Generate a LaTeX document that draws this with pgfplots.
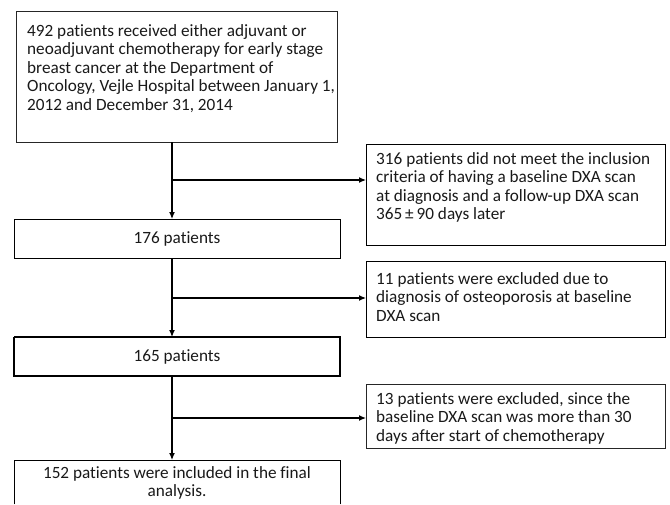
\documentclass[border=0pt]{standalone}
\usepackage{pgfplots}
\pgfplotsset{compat=1.18}
\usepackage{fontspec}
\setmainfont{Carlito}[Ligatures=NoCommon]
\usetikzlibrary{arrows.meta}
\begin{document}
\begin{tikzpicture}
\begin{axis}[
  width=670bp, height=503bp, scale only axis,
  xmin=0, xmax=670, ymin=0, ymax=503, y dir=reverse,
  hide axis, clip=false,
  cycle list={{black!85, solid, line width=1.2bp, line cap=rect, line join=miter, no marks}},
  nodes={font=\fontsize{17.2bp}{18.5bp}\selectfont, inner sep=0pt, text=black!90},
]
\path (rel axis cs:0,0) rectangle (rel axis cs:1,1);
% left boxes
\addplot coordinates {(16,11) (337,11) (337,142) (16,142) (16,11)};
\addplot coordinates {(14,219) (340,219) (340,258) (14,258) (14,219)};
\addplot coordinates {(14,337) (340,337) (340,376) (14,376) (14,337)};
\addplot coordinates {(14,504) (14,460) (340,460) (340,504)};
% right boxes
\addplot coordinates {(366,144) (665,144) (665,245) (366,245) (366,144)};
\addplot coordinates {(366,261) (665,261) (665,337) (366,337) (366,261)};
\addplot coordinates {(366,384) (665,384) (665,448) (366,448) (366,384)};
% vertical arrows
\addplot[black, line width=1.2bp, -{Latex[length=7bp,width=6bp]}] coordinates {(172,142) (172,219)};
\addplot[black, line width=1.2bp, -{Latex[length=7bp,width=6bp]}] coordinates {(172,258) (172,337)};
\addplot[black, line width=1.2bp, -{Latex[length=7bp,width=6bp]}] coordinates {(172,376) (172,460)};
% horizontal arrows
\addplot[black, line width=1.2bp, -{Latex[length=7bp,width=6bp]}] coordinates {(172,180) (366,180)};
\addplot[black, line width=1.2bp, -{Latex[length=7bp,width=6bp]}] coordinates {(172,298) (366,298)};
\addplot[black, line width=1.2bp, -{Latex[length=7bp,width=6bp]}] coordinates {(172,418) (366,418)};
% texts box 1
\node[anchor=base west] at (27,36) {492 patients received either adjuvant or};
\node[anchor=base west] at (27,54.5) {neoadjuvant chemotherapy for early stage};
\node[anchor=base west] at (27,73) {breast cancer at the Department of};
\node[anchor=base west] at (27,91.5) {Oncology, Vejle Hospital between January 1,};
\node[anchor=base west] at (27,110) {2012 and December 31, 2014};
\node[anchor=base] at (177,243) {176 patients};
\node[anchor=base] at (177,361) {165 patients};
\node[anchor=base] at (177,478) {152 patients were included in the final};
\node[anchor=base] at (177,496.5) {analysis.};
% right texts
\node[anchor=base west] at (376,164) {316 patients did not meet the inclusion};
\node[anchor=base west] at (376,182.5) {criteria of having a baseline DXA scan};
\node[anchor=base west] at (376,201) {at diagnosis and a follow-up DXA scan};
\node[anchor=base west] at (376,219.5) {365\,±\,90 days later};
\node[anchor=base west] at (376,284) {11 patients were excluded due to};
\node[anchor=base west] at (376,302.5) {diagnosis of osteoporosis at baseline};
\node[anchor=base west] at (376,321) {DXA scan};
\node[anchor=base west] at (376,404) {13 patients were excluded, since the};
\node[anchor=base west] at (376,422.5) {baseline DXA scan was more than 30};
\node[anchor=base west] at (376,441) {days after start of chemotherapy};
\end{axis}
\end{tikzpicture}
\end{document}
